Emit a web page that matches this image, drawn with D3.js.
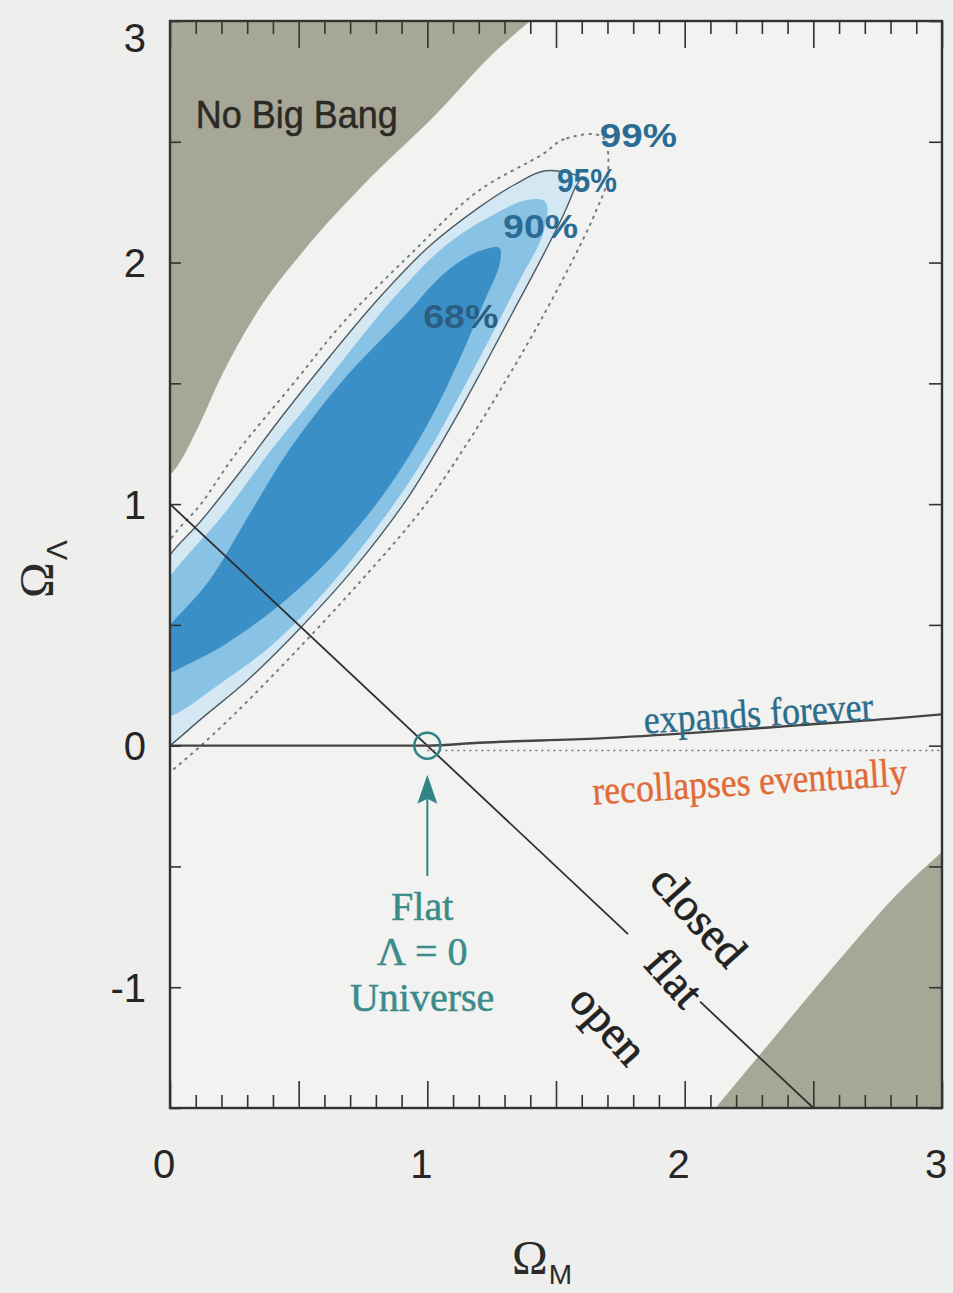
<!DOCTYPE html>
<html>
<head>
<meta charset="utf-8">
<script src="https://cdnjs.cloudflare.com/ajax/libs/d3/7.8.5/d3.min.js"></script>
<style>
  body { margin: 0; background: #eeeeec; }
  svg { display: block; }
</style>
</head>
<body>
<script>
var width = 953,
  height = 1293;

// confidence contours in the (Omega_M, Omega_Lambda) plane
// points run down the upper side, round the clipped left end, then up the lower side
var conf68 = [[1.28,2.06],[1.21,2.05],[1.12,2.00],[1.03,1.92],[0.93,1.80],[0.82,1.68],[0.67,1.51],
  [0.46,1.22],[0.31,0.96],[0.15,0.68],[0.00,0.50],[-0.10,0.37],[-0.14,0.30],[-0.10,0.24],
  [0.00,0.30],[0.20,0.41],[0.40,0.56],[0.60,0.75],[0.78,0.97],[0.93,1.20],[1.05,1.43],
  [1.15,1.66],[1.23,1.86],[1.28,1.99]];

var conf90 = [[1.46,2.25],[1.39,2.26],[1.26,2.20],[1.07,2.07],[0.875,1.86],[0.69,1.62],[0.55,1.43],
  [0.39,1.22],[0.21,0.96],[0.00,0.70],[-0.10,0.52],[-0.15,0.33],[-0.10,0.10],
  [0.01,0.125],[0.20,0.26],[0.40,0.42],[0.62,0.66],[0.83,0.94],[1.00,1.21],[1.14,1.48],
  [1.25,1.70],[1.36,1.93],[1.45,2.12]];

var conf95 = [[1.59,2.35],[1.46,2.38],[1.335,2.32],[1.19,2.22],[1.00,2.06],[0.81,1.85],[0.62,1.61],
  [0.44,1.37],[0.27,1.13],[0.12,0.93],[0.00,0.79],[-0.10,0.62],[-0.15,0.30],[-0.10,-0.08],
  [0.00,0.00],[0.12,0.11],[0.30,0.27],[0.50,0.48],[0.72,0.74],[0.92,1.02],[1.08,1.30],
  [1.21,1.55],[1.33,1.79],[1.44,2.01],[1.53,2.20],[1.57,2.30]];

var conf99 = [[1.68,2.52],[1.53,2.51],[1.45,2.45],[1.19,2.29],[0.94,2.04],[0.68,1.76],[0.48,1.50],
  [0.25,1.20],[0.12,1.00],[0.00,0.85],[-0.10,0.62],[-0.15,0.25],[-0.10,-0.20],
  [0.00,-0.11],[0.11,-0.01],[0.25,0.13],[0.48,0.38],[0.74,0.68],[0.98,0.98],[1.16,1.26],
  [1.31,1.52],[1.44,1.76],[1.56,2.00],[1.65,2.20],[1.70,2.35]];

// shaded regions
var noBigBang = [[0,1.12],[0.03,1.16],[0.11,1.32],[0.20,1.53],[0.33,1.78],[0.52,2.05],
  [0.75,2.32],[1.03,2.61],[1.27,2.88],[1.40,3.0]];
var tooYoung = [[2.12,-1.5],[2.37,-1.18],[2.63,-0.85],[2.83,-0.61],[3.0,-0.44]];

// expands forever / recollapses boundary, and the Lambda = 0 dotted line
var recollapse = [[0,0],[1.0,0],[1.2,0.012],[1.67,0.03],[2.06,0.055],[2.45,0.085],[2.84,0.115],[3.0,0.13]];
var lambdaZero = [[1.0,-0.02],[3.0,-0.02]];

// Omega_M + Omega_Lambda = 1, broken where the "flat" label sits
var flatSegments = [[[0,1],[1.78,-0.78]], [[2.06,-1.06],[2.5,-1.5]]];

var flatPoint = [1, 0];
var arrowStem = [-0.54, -0.12];

var xTicks = [0, 1, 2, 3];
var yTicks = [-1, 0, 1, 2, 3];

var confLabels = [
  {text: "99%", at: [1.82, 2.528], len: 77, color: "#2a6c94"},
  {text: "95%", at: [1.62, 2.34], len: 60, color: "#2a6c94"},
  {text: "90%", at: [1.44, 2.15], len: 75, color: "#2a6c94"},
  {text: "68%", at: [1.13, 1.78], len: 75, color: "#2b5f82"}
];

var flatUniverseLines = [
  {text: "Flat", at: [0.98, -0.72]},
  {text: "\u039B = 0", at: [0.98, -0.91]},
  {text: "Universe", at: [0.98, -1.10]}
];

var geometryLabels = [
  {text: "closed", at: [2.05, -0.71]},
  {text: "flat", at: [1.955, -0.965]},
  {text: "open", at: [1.70, -1.16]}
];

var x = d3.scaleLinear().domain([0, 3]).range([170, 942]);
var y = d3.scaleLinear().domain([-1.5, 3]).range([1108, 21]);

var serif = "'Liberation Serif', 'Times New Roman', serif";
var sans = "'Liberation Sans', Arial, Helvetica, sans-serif";

var svg = d3.select("body").append("svg")
  .attr("width", width)
  .attr("height", height);

svg.append("rect")
  .attr("width", width)
  .attr("height", height)
  .attr("fill", "#eeeeec");

svg.append("defs").append("clipPath")
  .attr("id", "plotClip")
  .append("rect")
  .attr("x", x(0))
  .attr("y", y(3))
  .attr("width", x(3) - x(0))
  .attr("height", y(-1.5) - y(3));

var plot = svg.append("g").attr("clip-path", "url(#plotClip)");

plot.append("rect")
  .attr("x", x(0))
  .attr("y", y(3))
  .attr("width", x(3) - x(0))
  .attr("height", y(-1.5) - y(3))
  .attr("fill", "#f2f2f0");

// gray regions
var topArea = d3.area()
  .x(function(d) { return x(d[0]); })
  .y0(y(3))
  .y1(function(d) { return y(d[1]); })
  .curve(d3.curveMonotoneX);

var bottomArea = d3.area()
  .x(function(d) { return x(d[0]); })
  .y0(y(-1.5))
  .y1(function(d) { return y(d[1]); })
  .curve(d3.curveMonotoneX);

plot.append("path").datum(noBigBang)
  .attr("d", topArea)
  .attr("fill", "#a6a797");

plot.append("path").datum(tooYoung)
  .attr("d", bottomArea)
  .attr("fill", "#a6a797");

// contours
var closedCurve = d3.line()
  .x(function(d) { return x(d[0]); })
  .y(function(d) { return y(d[1]); })
  .curve(d3.curveCatmullRomClosed.alpha(0.5));

plot.append("path").datum(conf99)
  .attr("d", closedCurve)
  .attr("fill", "none")
  .attr("stroke", "#6f7d88")
  .attr("stroke-width", 2)
  .attr("stroke-dasharray", "1.5,6")
  .attr("stroke-linecap", "round");

plot.append("path").datum(conf95)
  .attr("d", closedCurve)
  .attr("fill", "#d4e8f4")
  .attr("stroke", "#4c5b66")
  .attr("stroke-width", 1.4);

plot.append("path").datum(conf90)
  .attr("d", closedCurve)
  .attr("fill", "#88c2e4");

plot.append("path").datum(conf68)
  .attr("d", closedCurve)
  .attr("fill", "#3b8fc7");

// lines
var straight = d3.line()
  .x(function(d) { return x(d[0]); })
  .y(function(d) { return y(d[1]); });

plot.selectAll(".flat")
  .data(flatSegments)
  .enter()
  .append("path")
  .attr("class", "flat")
  .attr("d", straight)
  .attr("fill", "none")
  .attr("stroke", "#2e2e2e")
  .attr("stroke-width", 1.8);

plot.append("path").datum(lambdaZero)
  .attr("d", straight)
  .attr("fill", "none")
  .attr("stroke", "#777")
  .attr("stroke-width", 1.6)
  .attr("stroke-dasharray", "2,4");

plot.append("path").datum(recollapse)
  .attr("d", straight.curve(d3.curveMonotoneX))
  .attr("fill", "none")
  .attr("stroke", "#454545")
  .attr("stroke-width", 2.4);

// flat Lambda = 0 marker and arrow
var teal = "#2f8585";

plot.append("circle")
  .attr("cx", x(flatPoint[0]))
  .attr("cy", y(flatPoint[1]))
  .attr("r", 13)
  .attr("fill", "none")
  .attr("stroke", teal)
  .attr("stroke-width", 2.5);

plot.append("line")
  .attr("x1", x(flatPoint[0]))
  .attr("x2", x(flatPoint[0]))
  .attr("y1", y(arrowStem[0]))
  .attr("y2", y(arrowStem[1]) + 20)
  .attr("stroke", teal)
  .attr("stroke-width", 2);

var tipX = x(flatPoint[0]), tipY = y(arrowStem[1]);
plot.append("path")
  .attr("d", "M" + tipX + "," + tipY + "L" + (tipX - 10) + "," + (tipY + 29) +
             "L" + tipX + "," + (tipY + 24) + "L" + (tipX + 10) + "," + (tipY + 29) + "Z")
  .attr("fill", teal);

// labels
var labels = svg.append("g");

labels.append("text")
  .attr("x", x(0.10))
  .attr("y", y(2.557))
  .attr("font-family", sans)
  .attr("font-size", 39)
  .attr("fill", "#2c2925")
  .attr("stroke", "#2c2925")
  .attr("stroke-width", 0.5)
  .attr("textLength", 202)
  .attr("lengthAdjust", "spacingAndGlyphs")
  .text("No Big Bang");

labels.selectAll(".conf")
  .data(confLabels)
  .enter()
  .append("text")
  .attr("class", "conf")
  .attr("x", function(d) { return x(d.at[0]); })
  .attr("y", function(d) { return y(d.at[1]); })
  .attr("dy", "0.36em")
  .attr("text-anchor", "middle")
  .attr("font-family", sans)
  .attr("font-weight", "bold")
  .attr("font-size", 33)
  .attr("fill", function(d) { return d.color; })
  .attr("textLength", function(d) { return d.len; })
  .attr("lengthAdjust", "spacingAndGlyphs")
  .text(function(d) { return d.text; });

labels.append("text")
  .attr("transform", "translate(" + x(2.287) + "," + y(0.129) + ") rotate(-3.5)")
  .attr("dy", "0.3em")
  .attr("text-anchor", "middle")
  .attr("font-family", serif)
  .attr("font-size", 40)
  .attr("fill", "#2b6d8c")
  .attr("stroke", "#2b6d8c")
  .attr("stroke-width", 0.4)
  .attr("textLength", 230)
  .attr("lengthAdjust", "spacingAndGlyphs")
  .text("expands forever");

labels.append("text")
  .attr("transform", "translate(" + x(2.253) + "," + y(-0.154) + ") rotate(-3.5)")
  .attr("dy", "0.3em")
  .attr("text-anchor", "middle")
  .attr("font-family", serif)
  .attr("font-size", 40)
  .attr("fill", "#e06a38")
  .attr("stroke", "#e06a38")
  .attr("stroke-width", 0.4)
  .attr("textLength", 315)
  .attr("lengthAdjust", "spacingAndGlyphs")
  .text("recollapses eventually");

labels.selectAll(".flatU")
  .data(flatUniverseLines)
  .enter()
  .append("text")
  .attr("class", "flatU")
  .attr("x", function(d) { return x(d.at[0]); })
  .attr("y", function(d) { return y(d.at[1]); })
  .attr("text-anchor", "middle")
  .attr("font-family", serif)
  .attr("font-size", 40)
  .attr("fill", "#3a8b89")
  .attr("stroke", "#3a8b89")
  .attr("stroke-width", 0.5)
  .text(function(d) { return d.text; });

labels.selectAll(".geom")
  .data(geometryLabels)
  .enter()
  .append("text")
  .attr("class", "geom")
  .attr("transform", function(d) {
    return "translate(" + x(d.at[0]) + "," + y(d.at[1]) + ") rotate(48)";
  })
  .attr("dy", "0.3em")
  .attr("text-anchor", "middle")
  .attr("font-family", serif)
  .attr("font-size", 46)
  .attr("fill", "#222")
  .attr("stroke", "#222")
  .attr("stroke-width", 0.7)
  .text(function(d) { return d.text; });

// frame and ticks
var minorX = d3.range(0, 3.0001, 0.1).filter(function(v) { return Math.abs(v * 2 - Math.round(v * 2)) > 1e-6; });
var majorX = d3.range(0, 3.0001, 0.5);
var halfY = d3.range(-1.5, 3.0001, 0.5);

function tickAxis(axis, pos) {
  var g = svg.append("g").attr("transform", pos).call(axis);
  g.select(".domain").remove();
  g.selectAll("line").attr("stroke", "#333").attr("stroke-width", 1.6);
  return g;
}

tickAxis(d3.axisTop(x).tickValues(minorX).tickSize(-13).tickFormat(""), "translate(0," + y(3) + ")");
tickAxis(d3.axisTop(x).tickValues(majorX).tickSize(-27).tickFormat(""), "translate(0," + y(3) + ")");
tickAxis(d3.axisBottom(x).tickValues(minorX).tickSize(-13).tickFormat(""), "translate(0," + y(-1.5) + ")");
tickAxis(d3.axisBottom(x).tickValues(majorX).tickSize(-27).tickFormat(""), "translate(0," + y(-1.5) + ")");
tickAxis(d3.axisLeft(y).tickValues(halfY).tickSize(-11).tickFormat(""), "translate(" + x(0) + ",0)");
tickAxis(d3.axisRight(y).tickValues(halfY).tickSize(-13).tickFormat(""), "translate(" + x(3) + ",0)");

svg.append("rect")
  .attr("x", x(0))
  .attr("y", y(3))
  .attr("width", x(3) - x(0))
  .attr("height", y(-1.5) - y(3))
  .attr("fill", "none")
  .attr("stroke", "#333")
  .attr("stroke-width", 2.4);

// tick labels
svg.selectAll(".xlab")
  .data(xTicks)
  .enter()
  .append("text")
  .attr("class", "xlab")
  .attr("x", function(d) { return x(d) - 6; })
  .attr("y", y(-1.5) + 70)
  .attr("text-anchor", "middle")
  .attr("font-family", sans)
  .attr("font-size", 40)
  .attr("fill", "#262626")
  .text(function(d) { return d; });

svg.selectAll(".ylab")
  .data(yTicks)
  .enter()
  .append("text")
  .attr("class", "ylab")
  .attr("x", x(0) - 24)
  .attr("y", function(d) { return Math.max(y(d), 38); })
  .attr("dy", "0.36em")
  .attr("text-anchor", "end")
  .attr("font-family", sans)
  .attr("font-size", 40)
  .attr("fill", "#262626")
  .text(function(d) { return d; });

// axis titles
var yTitle = svg.append("text")
  .attr("transform", "translate(53,598) rotate(-90)")
  .attr("font-family", serif)
  .attr("font-size", 48)
  .attr("fill", "#2a2a2a");
yTitle.append("tspan").text("\u03A9");
yTitle.append("tspan")
  .attr("font-family", sans)
  .attr("font-size", 30)
  .attr("dx", 2)
  .attr("dy", 14)
  .text("\u039B");

var xTitle = svg.append("text")
  .attr("x", 512)
  .attr("y", 1274)
  .attr("font-family", serif)
  .attr("font-size", 48)
  .attr("fill", "#2a2a2a");
xTitle.append("tspan").text("\u03A9");
xTitle.append("tspan")
  .attr("font-family", sans)
  .attr("font-size", 28)
  .attr("dx", 1)
  .attr("dy", 10)
  .text("M");
</script>
</body>
</html>
